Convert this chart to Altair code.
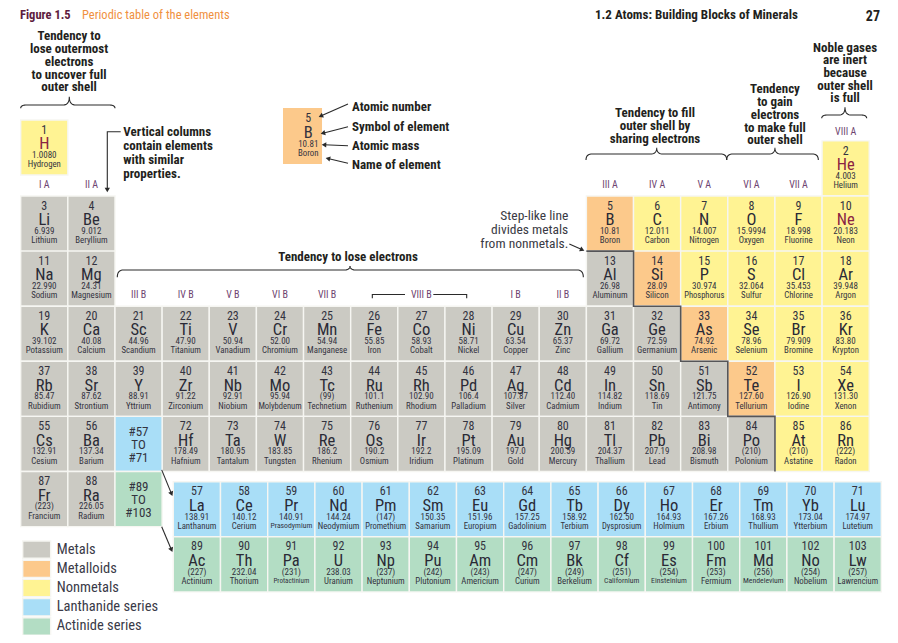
import math
import altair as alt
import pandas as pd

# ---------------- values ----------------
MAIN_NUMBERS = [1, 2, 3, 4, 5, 6, 7, 8, 9, 10, 11, 12, 13, 14, 15, 16, 17, 18,
                19, 20, 21, 22, 23, 24, 25, 26, 27, 28, 29, 30, 31, 32, 33, 34, 35, 36,
                37, 38, 39, 40, 41, 42, 43, 44, 45, 46, 47, 48, 49, 50, 51, 52, 53, 54,
                55, 56, 72, 73, 74, 75, 76, 77, 78, 79, 80, 81, 82, 83, 84, 85, 86,
                87, 88]
MAIN_SYMBOLS = ["H", "He", "Li", "Be", "B", "C", "N", "O", "F", "Ne", "Na", "Mg", "Al", "Si", "P", "S", "Cl", "Ar",
                "K", "Ca", "Sc", "Ti", "V", "Cr", "Mn", "Fe", "Co", "Ni", "Cu", "Zn", "Ga", "Ge", "As", "Se", "Br", "Kr",
                "Rb", "Sr", "Y", "Zr", "Nb", "Mo", "Tc", "Ru", "Rh", "Pd", "Ag", "Cd", "In", "Sn", "Sb", "Te", "I", "Xe",
                "Cs", "Ba", "Hf", "Ta", "W", "Re", "Os", "Ir", "Pt", "Au", "Hg", "Tl", "Pb", "Bi", "Po", "At", "Rn",
                "Fr", "Ra"]
MAIN_MASSES = ["1.0080", "4.003", "6.939", "9.012", "10.81", "12.011", "14.007", "15.9994", "18.998", "20.183",
               "22.990", "24.31", "26.98", "28.09", "30.974", "32.064", "35.453", "39.948",
               "39.102", "40.08", "44.96", "47.90", "50.94", "52.00", "54.94", "55.85", "58.93", "58.71", "63.54",
               "65.37", "69.72", "72.59", "74.92", "78.96", "79.909", "83.80",
               "85.47", "87.62", "88.91", "91.22", "92.91", "95.94", "(99)", "101.1", "102.90", "106.4", "107.87",
               "112.40", "114.82", "118.69", "121.75", "127.60", "126.90", "131.30",
               "132.91", "137.34", "178.49", "180.95", "183.85", "186.2", "190.2", "192.2", "195.09", "197.0",
               "200.59", "204.37", "207.19", "208.98", "(210)", "(210)", "(222)",
               "(223)", "226.05"]
MAIN_NAMES = ["Hydrogen", "Helium", "Lithium", "Beryllium", "Boron", "Carbon", "Nitrogen", "Oxygen", "Fluorine", "Neon",
              "Sodium", "Magnesium", "Aluminum", "Silicon", "Phosphorus", "Sulfur", "Chlorine", "Argon",
              "Potassium", "Calcium", "Scandium", "Titanium", "Vanadium", "Chromium", "Manganese", "Iron", "Cobalt",
              "Nickel", "Copper", "Zinc", "Gallium", "Germanium", "Arsenic", "Selenium", "Bromine", "Krypton",
              "Rubidium", "Strontium", "Yttrium", "Zirconium", "Niobium", "Molybdenum", "Technetium", "Ruthenium",
              "Rhodium", "Palladium", "Silver", "Cadmium", "Indium", "Tin", "Antimony", "Tellurium", "Iodine", "Xenon",
              "Cesium", "Barium", "Hafnium", "Tantalum", "Tungsten", "Rhenium", "Osmium", "Iridium", "Platinum",
              "Gold", "Mercury", "Thallium", "Lead", "Bismuth", "Polonium", "Astatine", "Radon",
              "Francium", "Radium"]
MAIN_GROUPS = [1, 18,
               1, 2, 13, 14, 15, 16, 17, 18,
               1, 2, 13, 14, 15, 16, 17, 18,
               1, 2, 3, 4, 5, 6, 7, 8, 9, 10, 11, 12, 13, 14, 15, 16, 17, 18,
               1, 2, 3, 4, 5, 6, 7, 8, 9, 10, 11, 12, 13, 14, 15, 16, 17, 18,
               1, 2, 4, 5, 6, 7, 8, 9, 10, 11, 12, 13, 14, 15, 16, 17, 18,
               1, 2]
MAIN_PERIODS = [1, 1,
                2, 2, 2, 2, 2, 2, 2, 2,
                3, 3, 3, 3, 3, 3, 3, 3,
                4, 4, 4, 4, 4, 4, 4, 4, 4, 4, 4, 4, 4, 4, 4, 4, 4, 4,
                5, 5, 5, 5, 5, 5, 5, 5, 5, 5, 5, 5, 5, 5, 5, 5, 5, 5,
                6, 6, 6, 6, 6, 6, 6, 6, 6, 6, 6, 6, 6, 6, 6, 6, 6,
                7, 7]
# M = metal, D = metalloid, N = nonmetal
MAIN_CLASSES = ["N", "N",
                "M", "M", "D", "N", "N", "N", "N", "N",
                "M", "M", "M", "D", "N", "N", "N", "N",
                "M", "M", "M", "M", "M", "M", "M", "M", "M", "M", "M", "M", "M", "M", "D", "N", "N", "N",
                "M", "M", "M", "M", "M", "M", "M", "M", "M", "M", "M", "M", "M", "M", "M", "D", "N", "N",
                "M", "M", "M", "M", "M", "M", "M", "M", "M", "M", "M", "M", "M", "M", "M", "N", "N",
                "M", "M"]

SERIES_LABELS = ["#57\nTO\n#71", "#89\nTO\n#103"]
SERIES_GROUPS = [3, 3]
SERIES_PERIODS = [6, 7]
SERIES_CLASSES = ["L", "A"]

LAN_NUMBERS = [57, 58, 59, 60, 61, 62, 63, 64, 65, 66, 67, 68, 69, 70, 71]
LAN_SYMBOLS = ["La", "Ce", "Pr", "Nd", "Pm", "Sm", "Eu", "Gd", "Tb", "Dy", "Ho", "Er", "Tm", "Yb", "Lu"]
LAN_MASSES = ["138.91", "140.12", "140.91", "144.24", "(147)", "150.35", "151.96", "157.25", "158.92",
              "162.50", "164.93", "167.26", "168.93", "173.04", "174.97"]
LAN_NAMES = ["Lanthanum", "Cerium", "Prasodymium", "Neodymium", "Promethium", "Samarium", "Europium",
             "Gadolinium", "Terbium", "Dysprosium", "Holmium", "Erbium", "Thullium", "Ytterbium", "Lutetium"]

ACT_NUMBERS = [89, 90, 91, 92, 93, 94, 95, 96, 97, 98, 99, 100, 101, 102, 103]
ACT_SYMBOLS = ["Ac", "Th", "Pa", "U", "Np", "Pu", "Am", "Cm", "Bk", "Cf", "Es", "Fm", "Md", "No", "Lw"]
ACT_MASSES = ["(227)", "232.04", "(231)", "238.03", "(237)", "(242)", "(243)", "(247)", "(249)",
              "(251)", "(254)", "(253)", "(256)", "(254)", "(257)"]
ACT_NAMES = ["Actinium", "Thorium", "Protactinium", "Uranium", "Neptunium", "Plutonium", "Americium",
             "Curium", "Berkelium", "Californium", "Einsteinium", "Fermium", "Mendelevium", "Nobelium",
             "Lawrencium"]

CLASS_NAMES = ["Metals", "Metalloids", "Nonmetals", "Lanthanide series", "Actinide series"]
CLASS_CODES = ["M", "D", "N", "L", "A"]
CLASS_COLORS = ["#CBCAC3", "#FCC98B", "#FFF393", "#A9DEF7", "#B3DDC4"]

GROUP_LABELS_A = ["I A", "II A", "III A", "IV A", "V A", "VI A", "VII A", "VIII A"]
GROUP_LABELS_A_COLS = [1, 2, 13, 14, 15, 16, 17, 18]
GROUP_LABELS_B = ["III B", "IV B", "V B", "VI B", "VII B", "VIII B", "I B", "II B"]
GROUP_LABELS_B_COLS = [3, 4, 5, 6, 7, 9, 11, 12]

RED_SYMBOLS = ["H", "He", "Ne"]

# ---------------- layout (grid units: one column / one row) ----------------
NARROW = "'Roboto Condensed', 'Liberation Sans Narrow', 'Arial Narrow', 'Liberation Sans', sans-serif"
TXT = "#33333f"
COL_PX, ROW_PX = 47.14, 55.1
XS = alt.Scale(domain=[-0.26941, 18.4407], nice=False, zero=False)
YS = alt.Scale(domain=[-2.4120, 8.9673], nice=False, zero=False, reverse=True)
H_SHIFT = -0.38          # hydrogen sits higher than helium
LAN_U0, LAN_DU = 3.237, 1.0013
LAN_V, ACT_V = 6.185, 7.185
NUM_DV, SYM_DV, MASS_DV, NAME_DV = 0.175, 0.44, 0.632, 0.803


def X(f):
    return alt.X(f, type="quantitative", scale=XS, axis=None)


def Y(f):
    return alt.Y(f, type="quantitative", scale=YS, axis=None)


def name_size(n):
    return round(min(8.8, 40.0 / (0.47 * len(n))), 2)


rows = []
for i, num in enumerate(MAIN_NUMBERS):
    u0 = MAIN_GROUPS[i] - 1
    v0 = MAIN_PERIODS[i] - 1 + (H_SHIFT if MAIN_SYMBOLS[i] == "H" else 0)
    rows.append(dict(u0=u0, v0=v0, num=str(num), sym=MAIN_SYMBOLS[i], mass=MAIN_MASSES[i],
                     name=MAIN_NAMES[i], cls=MAIN_CLASSES[i], wu=1.0))
for i, num in enumerate(LAN_NUMBERS):
    rows.append(dict(u0=LAN_U0 + i * LAN_DU, v0=LAN_V, num=str(num), sym=LAN_SYMBOLS[i], mass=LAN_MASSES[i],
                     name=LAN_NAMES[i], cls="L", wu=LAN_DU))
for i, num in enumerate(ACT_NUMBERS):
    rows.append(dict(u0=LAN_U0 + i * LAN_DU, v0=ACT_V, num=str(num), sym=ACT_SYMBOLS[i], mass=ACT_MASSES[i],
                     name=ACT_NAMES[i], cls="A", wu=LAN_DU))
cells = pd.DataFrame(rows)
cells["u1"] = cells["u0"] + cells["wu"]
cells["v1"] = cells["v0"] + 1
cells["xc"] = cells["u0"] + cells["wu"] / 2
cells["vn"] = cells["v0"] + NUM_DV
cells["vs"] = cells["v0"] + SYM_DV
cells["vm"] = cells["v0"] + MASS_DV
cells["vna"] = cells["v0"] + NAME_DV
cells["nsize"] = cells["name"].map(name_size)
cells["red"] = cells["sym"].isin(RED_SYMBOLS)

series = pd.DataFrame(dict(u0=[g - 1 for g in SERIES_GROUPS], v0=[p - 1 for p in SERIES_PERIODS],
                           cls=SERIES_CLASSES, label=SERIES_LABELS))
series["u1"] = series["u0"] + 1
series["v1"] = series["v0"] + 1
series_lines = []
for _, r in series.iterrows():
    for k, t in enumerate(r["label"].split("\n")):
        series_lines.append(dict(xc=r["u0"] + 0.5, v=r["v0"] + 0.29 + k * 0.228, t=t))
series_lines = pd.DataFrame(series_lines)

all_cells = pd.concat([cells[["u0", "u1", "v0", "v1", "cls"]], series[["u0", "u1", "v0", "v1", "cls"]]])

cls_scale = alt.Scale(domain=CLASS_CODES, range=CLASS_COLORS)

rect_layer = alt.Chart(all_cells).mark_rect(stroke="#F6F6F2", strokeWidth=1.4).encode(
    x=X("u0"), x2="u1", y=Y("v0"), y2="v1", color=alt.Color("cls:N", scale=cls_scale, legend=None))

num_layer = alt.Chart(cells).mark_text(font=NARROW, fontSize=12, baseline="middle", color=TXT).encode(
    x=X("xc"), y=Y("vn"), text="num:N")
sym_layer = alt.Chart(cells).mark_text(font=NARROW, fontSize=16.5, baseline="middle").encode(
    x=X("xc"), y=Y("vs"), text="sym:N",
    color=alt.condition("datum.red", alt.value("#8a2342"), alt.value("#2a2a36")))
mass_layer = alt.Chart(cells).mark_text(font=NARROW, fontSize=9, baseline="middle", color=TXT).encode(
    x=X("xc"), y=Y("vm"), text="mass:N")
name_layer = alt.Chart(cells).mark_text(font=NARROW, baseline="middle", color=TXT).encode(
    x=X("xc"), y=Y("vna"), text="name:N", size=alt.Size("nsize:Q", scale=None))
series_text = alt.Chart(series_lines).mark_text(font=NARROW, fontSize=13, baseline="middle", color=TXT).encode(
    x=X("xc"), y=Y("v"), text="t:N")

# ---- key cell (Boron) ----
b = MAIN_SYMBOLS.index("B")
key = pd.DataFrame(dict(u0=[5.564], u1=[6.392], v0=[-0.597], v1=[0.419], cls=[MAIN_CLASSES[b]]))
key_txt = pd.DataFrame(dict(xc=[6.10] * 4, v=[-0.416, -0.138, 0.056, 0.214],
                            t=[str(MAIN_NUMBERS[b]), MAIN_SYMBOLS[b], MAIN_MASSES[b], MAIN_NAMES[b]],
                            s=[12, 16.5, 9, 8.8]))
key_rect = alt.Chart(key).mark_rect().encode(
    x=X("u0"), x2="u1", y=Y("v0"), y2="v1", color=alt.Color("cls:N", scale=cls_scale, legend=None))
key_text = alt.Chart(key_txt).mark_text(font=NARROW, baseline="middle", color=TXT).encode(
    x=X("xc"), y=Y("v"), text="t:N", size=alt.Size("s:Q", scale=None))

# ---- group labels ----
grp = pd.DataFrame(dict(xc=[c - 0.5 for c in GROUP_LABELS_A_COLS] + [c - 0.5 for c in GROUP_LABELS_B_COLS],
                        v=[0.80] * 7 + [-0.156] + [2.797] * 8,
                        t=GROUP_LABELS_A + GROUP_LABELS_B))
grp_layer = alt.Chart(grp).mark_text(font=NARROW, fontSize=10, baseline="middle", color="#6e4470").encode(
    x=X("xc"), y=Y("v"), text="t:N")

# ---- bold annotations ----
def block(lines, u, v0, dv=0.2314):
    return [dict(u=u, v=v0 + k * dv, t=t) for k, t in enumerate(lines)]

bold_center = pd.DataFrame(
    block(["Tendency to", "lose outermost", "electrons", "to uncover full", "outer shell"], 1.025, -1.895)
    + block(["Tendency to fill", "outer shell by", "sharing electrons"], 13.456, -0.501, 0.234)
    + block(["Tendency", "to gain", "electrons", "to make full", "outer shell"], 16.0, -0.936, 0.231)
    + block(["Noble gases", "are inert", "because", "outer shell", "is full"], 17.487, -1.691, 0.229)
    + block(["Tendency to lose electrons"], 6.943, 2.102)
)
bold_left = pd.DataFrame(
    block(["Atomic number"], 7.028, -0.621) + block(["Symbol of element"], 7.028, -0.258)
    + block(["Atomic mass"], 7.028, 0.087) + block(["Name of element"], 7.028, 0.437)
    + block(["Vertical columns", "contain elements", "with similar", "properties."], 2.177, -0.167, 0.256)
)
step_txt = pd.DataFrame(block(["Step-like line", "divides metals", "from nonmetals."], 11.616, 1.363, 0.254))

bc_layer = alt.Chart(bold_center).mark_text(font=NARROW, fontSize=13, fontWeight="bold", baseline="middle",
                                            align="center", color="#231f20").encode(x=X("u"), y=Y("v"), text="t:N")
bl_layer = alt.Chart(bold_left).mark_text(font=NARROW, fontSize=13, fontWeight="bold", baseline="middle",
                                          align="left", color="#231f20").encode(x=X("u"), y=Y("v"), text="t:N")
st_layer = alt.Chart(step_txt).mark_text(font=NARROW, fontSize=13.5, baseline="middle",
                                         align="right", color="#3a3a44").encode(x=X("u"), y=Y("v"), text="t:N")

# ---- page header ----
HDR_V = -2.283
hdr = pd.DataFrame(dict(u=[-0.015], v=[HDR_V], t=["Figure 1.5"]))
hdr2 = pd.DataFrame(dict(u=[1.30], v=[HDR_V], t=["Periodic table of the elements"]))
hdr3 = pd.DataFrame(dict(u=[12.183], v=[HDR_V], t=["1.2 Atoms: Building Blocks of Minerals"]))
hdr4 = pd.DataFrame(dict(u=[18.228], v=[-2.255], t=["27"]))
h1 = alt.Chart(hdr).mark_text(font=NARROW, fontSize=12.5, fontWeight="bold", align="left", baseline="middle",
                              color="#5e1c3e").encode(x=X("u"), y=Y("v"), text="t:N")
h2 = alt.Chart(hdr2).mark_text(font=NARROW, fontSize=12.5, align="left", baseline="middle",
                               color="#F0913F").encode(x=X("u"), y=Y("v"), text="t:N")
h3 = alt.Chart(hdr3).mark_text(font=NARROW, fontSize=13, fontWeight="bold", align="left", baseline="middle",
                               color="#231f20").encode(x=X("u"), y=Y("v"), text="t:N")
h4 = alt.Chart(hdr4).mark_text(font=NARROW, fontSize=14, fontWeight="bold", align="right", baseline="middle",
                               color="#231f20").encode(x=X("u"), y=Y("v"), text="t:N")

# ---- braces ----
def quad(p0, c, p2, n=10):
    return [((1 - t) ** 2 * p0[0] + 2 * (1 - t) * t * c[0] + t * t * p2[0],
             (1 - t) ** 2 * p0[1] + 2 * (1 - t) * t * c[1] + t * t * p2[1]) for t in [k / n for k in range(n + 1)]]


def brace(bid, x0, x1, xm, yb, ye, yp, r=0.13):
    pts = quad((x0, ye), (x0, yb), (x0 + r, yb))
    pts += quad((xm - r, yb), (xm, yb), (xm, yp))
    pts += quad((xm, yp), (xm, yb), (xm + r, yb))
    pts += quad((x1 - r, yb), (x1, yb), (x1, ye))
    return [dict(id=bid, i=k, u=p[0], v=p[1]) for k, p in enumerate(pts)]


br = pd.DataFrame(
    brace("a", 0.0, 2.0, 1.031, -0.652, -0.592, -0.802)
    + brace("b", 2.049, 11.935, 6.986, 2.343, 2.475, 2.270)
    + brace("c", 11.992, 14.977, 13.492, 0.238, 0.347, 0.123)
    + brace("d", 14.977, 16.92, 16.0, 0.238, 0.347, 0.123)
    + brace("e", 16.992, 17.946, 17.486, -0.470, -0.410, -0.610)
)
# bracket of VIII B
for bid, pts in [("f", [(7.459, 2.857), (7.459, 2.788), (8.152, 2.788)]),
                 ("g", [(8.753, 2.788), (9.461, 2.788), (9.461, 2.857)])]:
    br = pd.concat([br, pd.DataFrame([dict(id=bid, i=k, u=p[0], v=p[1]) for k, p in enumerate(pts)])])

brace_layer = alt.Chart(br).mark_line(color="#2a2a2a", strokeWidth=1.1).encode(
    x=X("u"), y=Y("v"), detail="id:N", order="i:Q")

# ---- step-like line between metals and nonmetals ----
step = pd.DataFrame([dict(i=k, u=p[0], v=p[1]) for k, p in enumerate(
    [(12, 2), (13, 2), (13, 3), (14, 3), (14, 4), (15, 4), (15, 5), (16, 5), (16, 6)])])
step_layer = alt.Chart(step).mark_line(color="#555558", strokeWidth=1.6).encode(
    x=X("u"), y=Y("v"), order="i:Q")

# ---- arrows ----
ARROWS = [
    [(6.943, -0.670), (6.307, -0.428)],
    [(6.943, -0.258), (6.349, -0.125)],
    [(6.943, 0.087), (6.370, 0.069)],
    [(6.943, 0.407), (6.455, 0.305)],
    [(2.121, -0.167), (1.837, -0.167), (1.837, 0.946)],
    [(11.638, 1.871), (11.971, 1.998)],
    [(2.991, 5.971), (3.224, 6.457)],
    [(2.991, 7.002), (3.224, 7.474)],
]
seg_rows, head_rows = [], []
for aid, pts in enumerate(ARROWS):
    (ua, va), (ub, vb) = pts[-2], pts[-1]
    dx, dy = (ub - ua) * COL_PX, (vb - va) * ROW_PX
    L = math.hypot(dx, dy)
    back = 3.0 / L
    tip_u, tip_v = ub - (ub - ua) * back, vb - (vb - va) * back
    line_pts = pts[:-1] + [(tip_u, tip_v)]
    for k, p in enumerate(line_pts):
        seg_rows.append(dict(id=aid, i=k, u=p[0], v=p[1]))
    head_rows.append(dict(u=tip_u, v=tip_v, ang=math.degrees(math.atan2(dx, -dy)) % 360))
arrow_line = alt.Chart(pd.DataFrame(seg_rows)).mark_line(color="#2a2a2a", strokeWidth=1.1).encode(
    x=X("u"), y=Y("v"), detail="id:N", order="i:Q")
arrow_head = alt.Chart(pd.DataFrame(head_rows)).mark_point(shape="triangle-up", filled=True, size=28,
                                                           color="#2a2a2a", opacity=1).encode(
    x=X("u"), y=Y("v"), angle=alt.Angle("ang:Q", scale=None))

# ---- legend ----
leg = pd.DataFrame(dict(cls=CLASS_CODES, label=CLASS_NAMES, k=list(range(len(CLASS_CODES)))))
leg["v0"] = 7.261 + leg["k"] * 0.3485
leg["v1"] = leg["v0"] + 0.314
leg["vc"] = leg["v0"] + 0.157
leg["u0"] = 0.042
leg["u1"] = 0.636
leg["ut"] = 0.764
leg_rect = alt.Chart(leg).mark_rect(stroke="#F6F6F2", strokeWidth=1.4).encode(
    x=X("u0"), x2="u1", y=Y("v0"), y2="v1", color=alt.Color("cls:N", scale=cls_scale, legend=None))
leg_text = alt.Chart(leg).mark_text(font=NARROW, fontSize=14.5, align="left", baseline="middle",
                                    color="#3a3a48").encode(x=X("ut"), y=Y("vc"), text="label:N")

chart = alt.layer(
    rect_layer, key_rect, step_layer, brace_layer, arrow_line, arrow_head,
    num_layer, sym_layer, mass_layer, name_layer, series_text, key_text,
    grp_layer, bc_layer, bl_layer, st_layer, h1, h2, h3, h4, leg_rect, leg_text,
).properties(
    width=882, height=627, padding=0, autosize=alt.AutoSizeParams(type="none"),
    background="#FFFFFF",
).configure_view(stroke=None)

chart.save("out.html", embed_options={"renderer": "svg", "actions": False})
